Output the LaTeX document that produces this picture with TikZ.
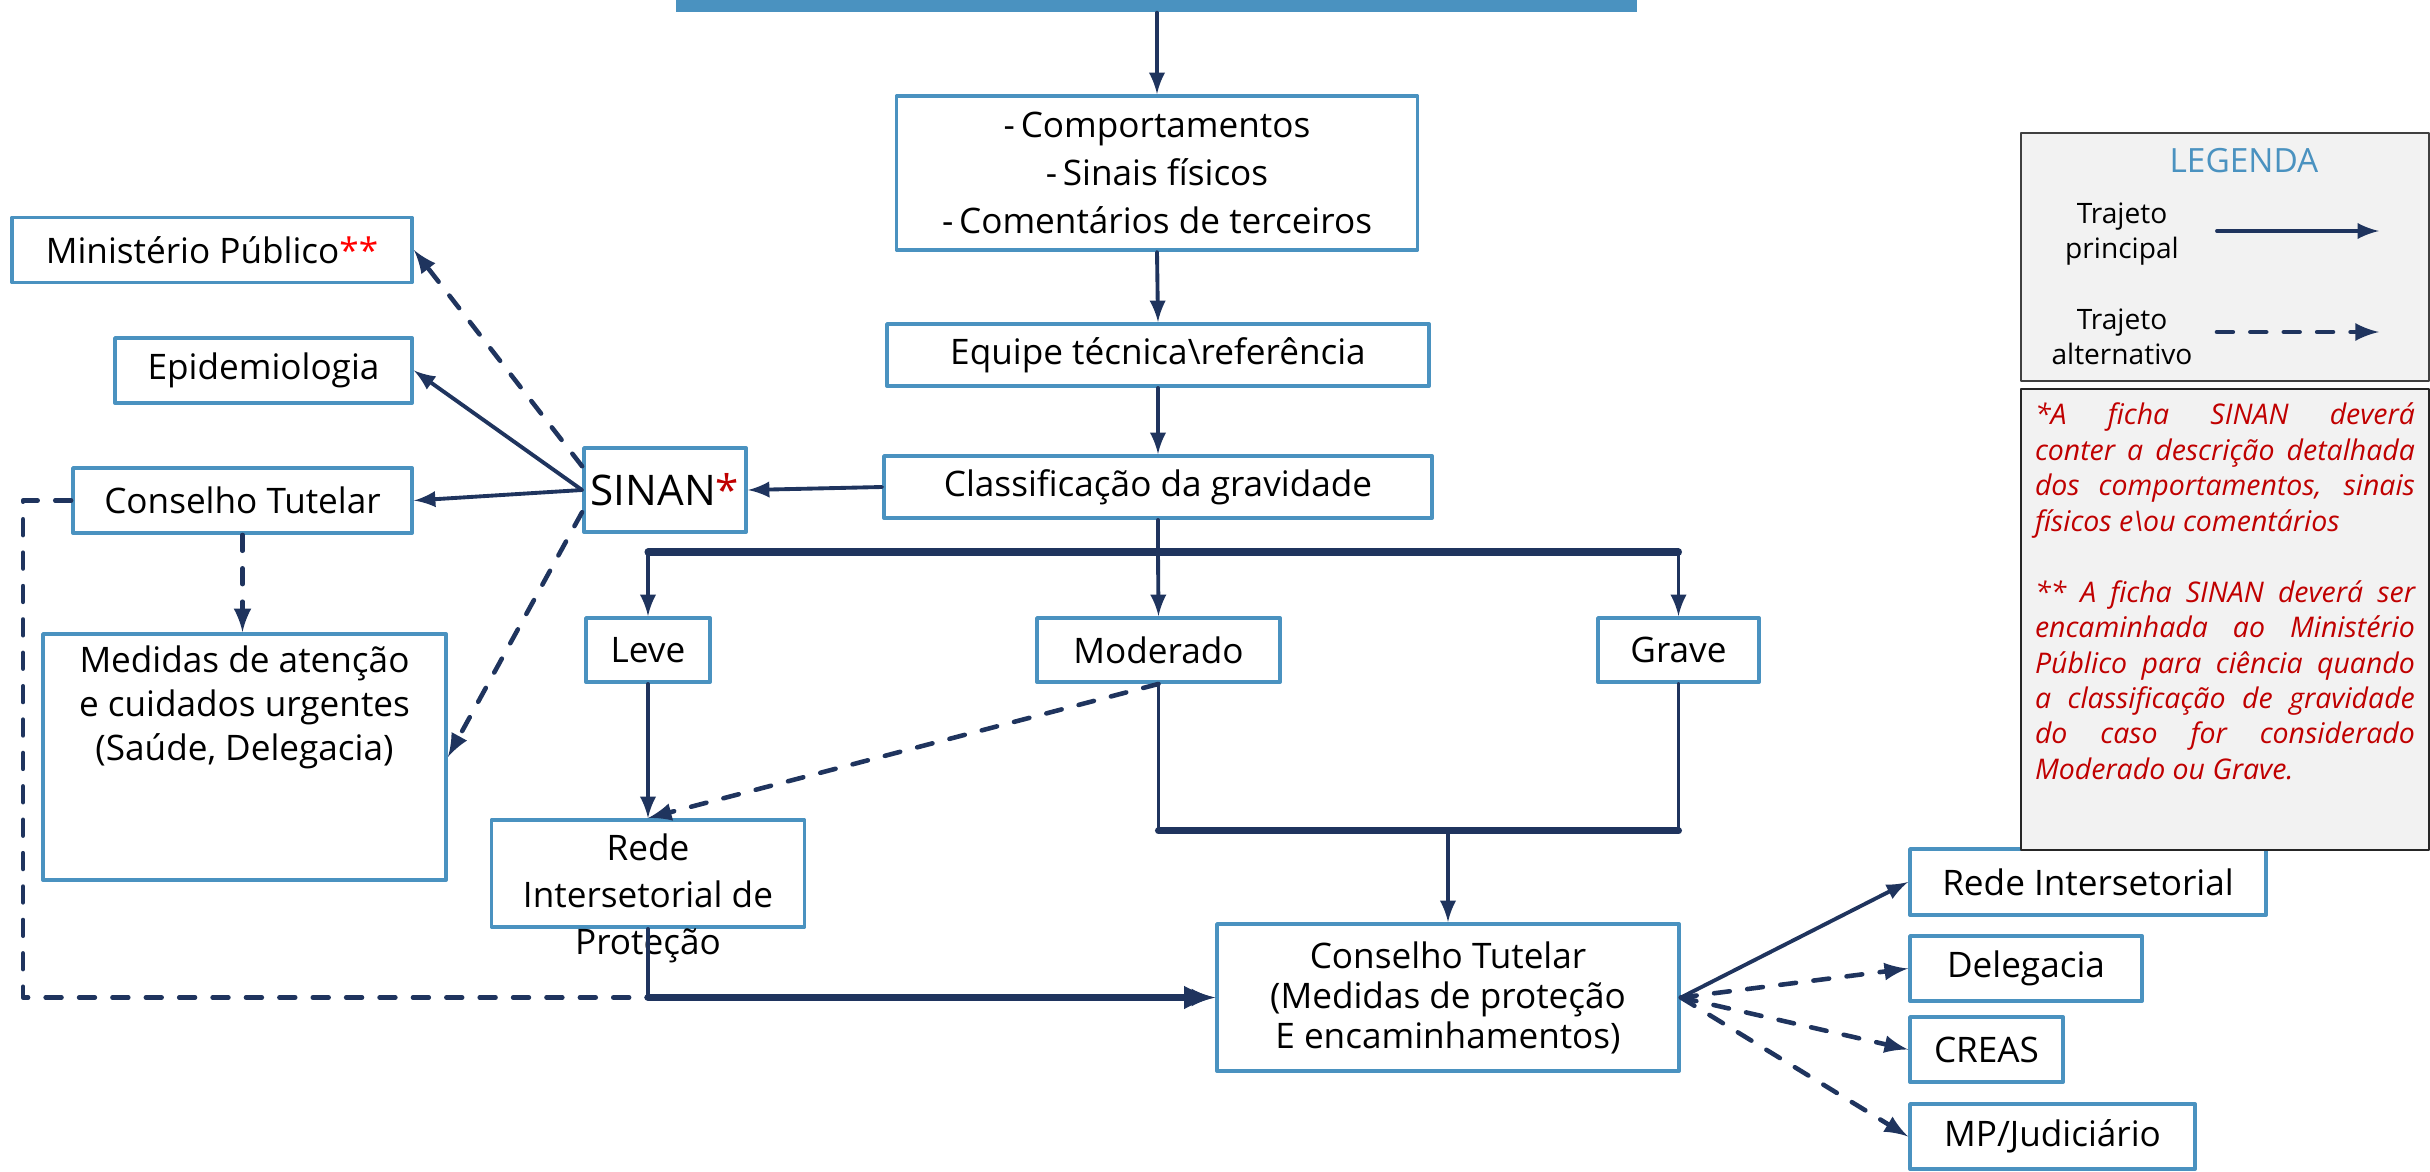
\documentclass[tikz,border=0pt]{standalone}
\usepackage{fontspec}
\setmainfont{Open Sans}
\definecolor{boxblue}{RGB}{74,146,192}
\definecolor{navy}{RGB}{31,52,94}
\definecolor{notered}{RGB}{192,0,0}
\definecolor{notegray}{RGB}{242,242,242}

\begin{document}
\begin{tikzpicture}[line cap=round,line join=round,>=latex,x=1mm,y=-1mm,
  box/.style={draw=boxblue,line width=1.1pt,fill=white,inner sep=0pt,align=center,font=\fontsize{10}{12}\selectfont},
  main/.style={navy,line width=1.1pt},
  alt/.style={navy,line width=1.3pt,dash pattern=on 4.5pt off 5pt},
  bus/.style={navy,line width=2pt}]

\useasboundingbox (0,0) rectangle (243,117.2);

%header bar
\node[fill=boxblue,inner sep=0pt,minimum width=96.1mm,minimum height=1.2mm] (bar) at (115.65,0.6) {};

%main column
\node[box,minimum width=52.1mm,minimum height=15.4mm,font=\fontsize{10}{13.7}\selectfont] (comp) at (115.7,17.3) {-\,Comportamentos\\-\,Sinais físicos\\-\,Comentários de terceiros};
\node[box,minimum width=54.2mm,minimum height=6.2mm] (equipe) at (115.8,35.5) {Equipe técnica\textbackslash referência};
\node[box,minimum width=54.8mm,minimum height=6.2mm] (classif) at (115.8,48.7) {Classificação da gravidade};
\node[box,minimum width=16.2mm,minimum height=8.4mm,font=\fontsize{12}{14}\selectfont] (sinan) at (66.5,49.0) {SINAN{\color{notered}*}};

%left side
\node[box,minimum width=40mm,minimum height=6.5mm] (mp) at (21.2,25.0) {Ministério Público{\color{red}**}};
\node[box,minimum width=29.7mm,minimum height=6.5mm] (epi) at (26.35,37.05) {Epidemiologia};
\node[box,minimum width=33.9mm,minimum height=6.5mm] (ctl) at (24.25,50.05) {Conselho Tutelar};
\node[box,minimum width=40.3mm,minimum height=24.6mm] (medidas) at (24.45,75.7) {};
\node[align=center,inner sep=0pt,font=\fontsize{10}{12.5}\selectfont] (medidastext) at (24.45,70.7) {Medidas de atenção\\e cuidados urgentes\\(Saúde, Delegacia)};

%gravity
\node[box,minimum width=12.4mm,minimum height=6.4mm] (leve) at (64.8,65.0) {Leve};
\node[box,minimum width=24.3mm,minimum height=6.4mm] (moder) at (115.85,65.0) {Moderado};
\node[box,minimum width=16.1mm,minimum height=6.4mm] (grave) at (167.85,65.0) {Grave};

\node[box,minimum width=31.3mm,minimum height=10.7mm] (rede) at (64.8,87.35) {};
\node[align=center,inner sep=0pt,font=\fontsize{10}{13.4}\selectfont] (redetext) at (64.8,89.8) {Rede\\Intersetorial de\\Proteção};

\node[box,minimum width=46.2mm,minimum height=14.7mm,font=\fontsize{10}{11.4}\selectfont] (ctm) at (144.8,99.75) {Conselho Tutelar\\(Medidas de proteção\\E encaminhamentos)};

%right side
\node[box,minimum width=35.6mm,minimum height=6.6mm] (ri) at (208.8,88.2) {Rede Intersetorial};
\node[box,minimum width=23.2mm,minimum height=6.5mm] (deleg) at (202.6,96.85) {Delegacia};
\node[box,minimum width=15.3mm,minimum height=6.5mm] (creas) at (198.65,104.95) {CREAS};
\node[box,minimum width=28.5mm,minimum height=6.5mm] (mpj) at (205.25,113.65) {MP/Judiciário};

%main path
\draw[main,->] (bar.south -| comp.north) -- (comp.north);
\draw[main,->] (comp.south) -- (equipe.north);
\draw[main,->] (equipe.south) -- (classif.north);
\draw[main,->] (classif.west) -- (sinan.east);

%split to gravity
\coordinate (split) at (115.8,55.2);
\draw[main] (classif.south) -- (split);
\draw[bus] (split -| leve) -- (split -| grave);
\draw[main,->] (split -| leve) -- (leve.north);
\draw[main,->] (split) -- (moder.north);
\draw[main,->] (split -| grave) -- (grave.north);

%sinan links
\draw[main,->] (sinan.west) -- (epi.east);
\draw[main,->] (sinan.west) -- (ctl.east);
\draw[alt,->] (sinan.164) -- (mp.east);
\draw[alt,->] (sinan.195) -- (medidas.east);
\draw[alt,->] (ctl.south) -- (ctl.south |- medidas.north);

%leve and moderado to rede
\draw[main,->] (leve.south) -- (rede.north);
\draw[alt,->] (moder.south) -- (rede.north);

%moderado and grave to conselho
\draw[main] (moder.south) -- ++(0,14.7) coordinate (mj) -| (grave.south);
\draw[bus] (mj) -- (mj -| grave.south);
\draw[main,->] (mj -| ctm.north) -- (ctm.north);

%into conselho
\draw[alt,->] (ctl.west) -- ++(-4.8,0) |- (ctm.west);
\draw[bus,->] (rede.south |- ctm.west) -- (ctm.west);
\draw[main] (rede.south) -- (rede.south |- ctm.west);

%out of conselho
\draw[main,->] (ctm.east) -- (ri.west);
\draw[alt,->] (ctm.east) -- (deleg.west);
\draw[alt,->] (ctm.east) -- (creas.west);
\draw[alt,->] (ctm.east) -- (mpj.west);

%legend
\node[draw=black!75,fill=notegray,line width=0.6pt,minimum width=40.8mm,minimum height=24.8mm,inner sep=0pt] (legend) at (222.5,25.7) {};
\node[text=boxblue,font=\fontsize{9.5}{12}\selectfont] (legtitle) at (224.4,16.1) {LEGENDA};
\node[align=center,font=\fontsize{8}{10.1}\selectfont] (legmain) at (212.2,23.4) {Trajeto\\principal};
\node[align=center,font=\fontsize{8}{10.1}\selectfont] (legalt) at (212.2,33.7) {Trajeto\\alternativo};
\coordinate (lma) at (221.7,23.1);
\coordinate (lmb) at (237.9,23.1);
\coordinate (laa) at (221.7,33.2);
\coordinate (lab) at (237.9,33.2);
\draw[main,->] (lma) -- (lmb);
\draw[alt,->] (laa) -- (lab);

%note
\node[draw=black!85,fill=notegray,line width=0.8pt,minimum width=40.8mm,minimum height=46.1mm,inner sep=0pt] (notebox) at (222.5,61.95) {};
\node[anchor=north,text width=38mm,align=justify,inner sep=0pt,text=notered,font=\fontsize{8.1}{10.1}\selectfont\itshape] (notetext) at (222.5,40.2) {\hyphenpenalty=10000 *A ficha SINAN deverá\linebreak conter a descrição detalhada\linebreak dos comportamentos, sinais\linebreak físicos e\textbackslash ou comentários\par\vspace{10.1pt}** A ficha SINAN deverá ser\linebreak encaminhada ao Ministério\linebreak Público para ciência quando\linebreak a classificação de gravidade\linebreak do caso for considerado\linebreak Moderado ou Grave.};
\end{tikzpicture}
\end{document}
